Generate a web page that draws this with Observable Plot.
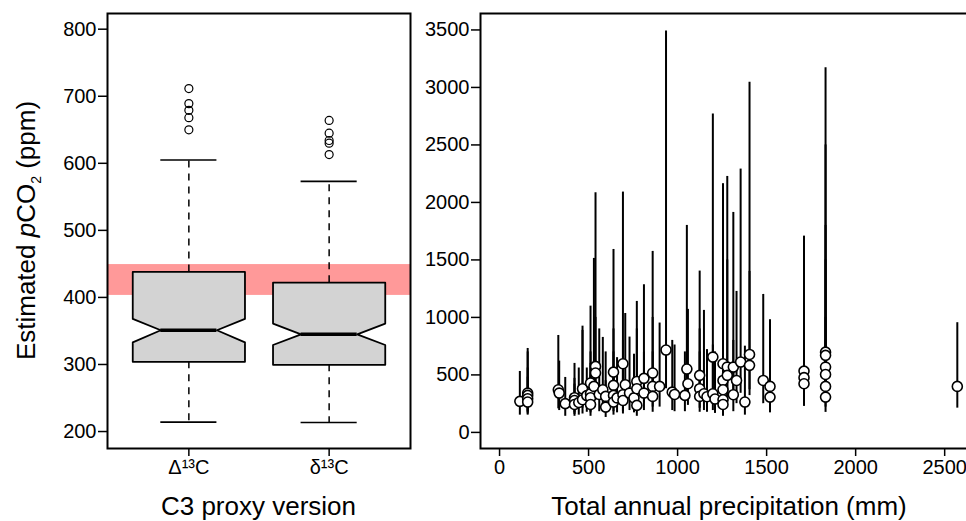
<!DOCTYPE html>
<html>
<head>
<meta charset="utf-8">
<script src="https://cdn.jsdelivr.net/npm/d3@7"></script>
<script src="https://cdn.jsdelivr.net/npm/@observablehq/plot@0.6"></script>
<style>
  html, body { margin: 0; padding: 0; background: #fff; overflow: hidden; }
  #wrap { position: relative; width: 966px; height: 521px; overflow: hidden; }
  #left, #right { position: absolute; top: 0; }
  #left { left: 0; width: 420px; }
  #right { left: 420px; width: 560px; }
  svg { overflow: visible; max-width: none !important; }
</style>
</head>
<body>
<div id="wrap"><div id="left"></div><div id="right"></div></div>
<script>
// ---------- Left panel: notched box plots ----------
const categories = ["Δ¹³C", "δ¹³C"];
const whiskerLow = [214, 213.5];
const q1 = [304, 299.5];
const notchLow = [333, 329];
const median = [351, 345];
const notchHigh = [368, 361];
const q3 = [438, 422];
const whiskerHigh = [605, 573];
const outlierGroup = [0, 0, 0, 0, 0, 1, 1, 1, 1, 1];
const outlierValues = [711.5, 689, 679, 668, 650, 664, 645, 634, 630, 613];
const modernBand = [403, 449];
const leftTicks = [200, 300, 400, 500, 600, 700, 800];

// ---------- Right panel: pCO2 vs precipitation ----------
const precip = [114,158,158,158,158,330,335,369,421,421,421,445,466,466,490,511,511,511,511,530,539,539,560,580,596,596,640,640,640,640,660,693,693,693,706,730,755,771,771,771,811,811,860,860,860,899,935,970,983,1041,1052,1058,1124,1124,1124,1148,1165,1198,1198,1210,1255,1255,1255,1255,1255,1279,1279,1313,1313,1331,1354,1378,1404,1404,1481,1519,1519,1710,1710,1710,1831,1831,1831,1831,1831,1831,2571];
const pco2 = [270,342,322,293,264,371,342,250,302,278,243,260,380,284,320,429,336,302,243,400,574,516,330,371,313,220,524,409,322,264,300,597,328,278,415,342,300,443,380,235,470,342,516,400,313,400,716,350,330,322,551,423,496,380,313,336,310,655,336,290,597,452,371,284,243,568,496,568,328,452,612,264,678,583,452,400,307,533,476,423,698,670,568,504,400,307,400];
const pco2Low = [150,185,175,160,150,205,190,140,170,155,140,150,210,160,175,235,185,170,140,215,300,280,180,205,175,130,285,225,180,150,170,320,180,160,230,190,170,240,210,140,255,190,280,220,175,220,380,190,180,180,300,235,270,210,175,190,175,360,190,165,330,250,205,160,140,310,270,310,180,250,340,150,370,320,250,220,170,290,260,226,380,370,310,280,220,174,211];
const pco2High = [530,730,700,560,480,843,620,478,600,470,420,560,924,887,560,1098,700,600,500,1513,2084,1000,900,826,700,450,1591,900,700,500,650,2090,800,600,1034,829,680,1139,900,450,1284,700,1574,1000,700,951,3490,800,760,700,1800,1070,1403,900,700,1061,720,2770,760,700,2163,1300,900,650,500,2226,1500,1913,800,1226,2290,750,3046,1400,1200,980,800,1707,1300,1100,3171,2500,1800,1500,1000,800,954];
const rightXTicks = [0, 500, 1000, 1500, 2000, 2500];
const rightYTicks = [0, 500, 1000, 1500, 2000, 2500, 3000, 3500];

const FONT = "'Liberation Sans', Arial, Helvetica, sans-serif";
const BOX_HALF = 0.4, NOTCH_HALF = 0.2, STAPLE_HALF = 0.2;
const plain = d => String(d);

const boxes = categories.map((c, i) => ({
  x: i + 1, lo: whiskerLow[i], q1: q1[i], nlo: notchLow[i], med: median[i],
  nhi: notchHigh[i], q3: q3[i], hi: whiskerHigh[i]
}));
const poly = boxes.flatMap(b => [
  [b.x - BOX_HALF, b.q1], [b.x - BOX_HALF, b.nlo], [b.x - NOTCH_HALF, b.med],
  [b.x - BOX_HALF, b.nhi], [b.x - BOX_HALF, b.q3], [b.x + BOX_HALF, b.q3],
  [b.x + BOX_HALF, b.nhi], [b.x + NOTCH_HALF, b.med], [b.x + BOX_HALF, b.nlo],
  [b.x + BOX_HALF, b.q1], [b.x - BOX_HALF, b.q1]
].map(([x, y]) => ({x, y, g: b.x})));
const outliers = outlierValues.map((v, i) => ({x: outlierGroup[i] + 1, y: v}));

const left = Plot.plot({
  width: 420, height: 521,
  marginLeft: 107, marginRight: 10, marginTop: 13, marginBottom: 73,
  style: {fontFamily: FONT, fontSize: "20px", color: "#000", background: "transparent"},
  x: {domain: [0.42, 2.58], label: null},
  y: {domain: [174.7, 823.4], label: null},
  marks: [
    Plot.rect([{lo: modernBand[0], hi: modernBand[1]}], {y1: "lo", y2: "hi", fill: "#ff9999"}),
    Plot.ruleX(boxes, {x: "x", y1: "q3", y2: "hi", stroke: "#000", strokeWidth: 1.5, strokeDasharray: "7,6"}),
    Plot.ruleX(boxes, {x: "x", y1: "q1", y2: "lo", stroke: "#000", strokeWidth: 1.5, strokeDasharray: "7,6"}),
    Plot.ruleY(boxes, {y: "hi", x1: d => d.x - STAPLE_HALF, x2: d => d.x + STAPLE_HALF, stroke: "#000", strokeWidth: 1.6}),
    Plot.ruleY(boxes, {y: "lo", x1: d => d.x - STAPLE_HALF, x2: d => d.x + STAPLE_HALF, stroke: "#000", strokeWidth: 1.6}),
    Plot.line(poly, {x: "x", y: "y", z: "g", fill: "#d3d3d3", stroke: "#000", strokeWidth: 1.8, curve: "linear"}),
    Plot.ruleY(boxes, {y: "med", x1: d => d.x - NOTCH_HALF, x2: d => d.x + NOTCH_HALF, stroke: "#000", strokeWidth: 3.5}),
    Plot.dot(outliers, {x: "x", y: "y", r: 4, fill: "none", stroke: "#000", strokeWidth: 1.2}),
    Plot.axisY({ticks: leftTicks, tickFormat: plain, tickSize: 9, tickPadding: 2, strokeWidth: 1.5, label: null, fontSize: 20}),
    Plot.axisX({ticks: [1, 2], tickFormat: d => categories[d - 1], tickSize: 8, tickPadding: 3, strokeWidth: 1.5, label: null, fontSize: 20}),
    Plot.frame({stroke: "#000", strokeWidth: 2})
  ]
});
document.getElementById("left").appendChild(left);

const pts = precip.map((p, i) => ({p, v: pco2[i], lo: pco2Low[i], hi: pco2High[i]}));
const right = Plot.plot({
  width: 560, height: 521,
  marginLeft: 60, marginRight: 2, marginTop: 13, marginBottom: 73,
  style: {fontFamily: FONT, fontSize: "20px", color: "#000", background: "transparent"},
  x: {domain: [-107, 2690], label: null},
  y: {domain: [-140, 3643], label: null},
  marks: [
    Plot.ruleX(pts, {x: "p", y1: "lo", y2: "hi", stroke: "#000", strokeWidth: 2}),
    Plot.dot(pts, {x: "p", y: "v", r: 5, fill: "#fff", stroke: "#000", strokeWidth: 1.6}),
    Plot.axisY({ticks: rightYTicks, tickFormat: plain, tickSize: 9, tickPadding: 2, strokeWidth: 1.5, label: null, fontSize: 20}),
    Plot.axisX({ticks: rightXTicks, tickFormat: plain, tickSize: 8, tickPadding: 3, strokeWidth: 1.5, label: null, fontSize: 20}),
    Plot.frame({stroke: "#000", strokeWidth: 2})
  ]
});
document.getElementById("right").appendChild(right);

// ---------- Axis titles ----------
function xTitle(svg, chart, text) {
  const r = chart.scale("x").range;
  d3.select(svg).append("text")
    .attr("x", (r[0] + r[1]) / 2).attr("y", 515)
    .attr("text-anchor", "middle")
    .style("font-family", FONT).style("font-size", "26px").attr("fill", "#000")
    .text(text);
}
xTitle(left, left, "C3 proxy version");
xTitle(right, right, "Total annual precipitation (mm)");

{
  const r = left.scale("y").range;
  const t = d3.select(left).append("text")
    .attr("transform", `translate(35,${(r[0] + r[1]) / 2}) rotate(-90)`)
    .attr("text-anchor", "middle")
    .style("font-family", FONT).style("font-size", "26px").attr("fill", "#000");
  t.append("tspan").text("Estimated ");
  t.append("tspan").style("font-style", "italic").text("p");
  t.append("tspan").text("CO");
  t.append("tspan").style("font-size", "14px").attr("dy", 6).text("2");
  t.append("tspan").attr("dy", -6).text(" (ppm)");
}
</script>
</body>
</html>
